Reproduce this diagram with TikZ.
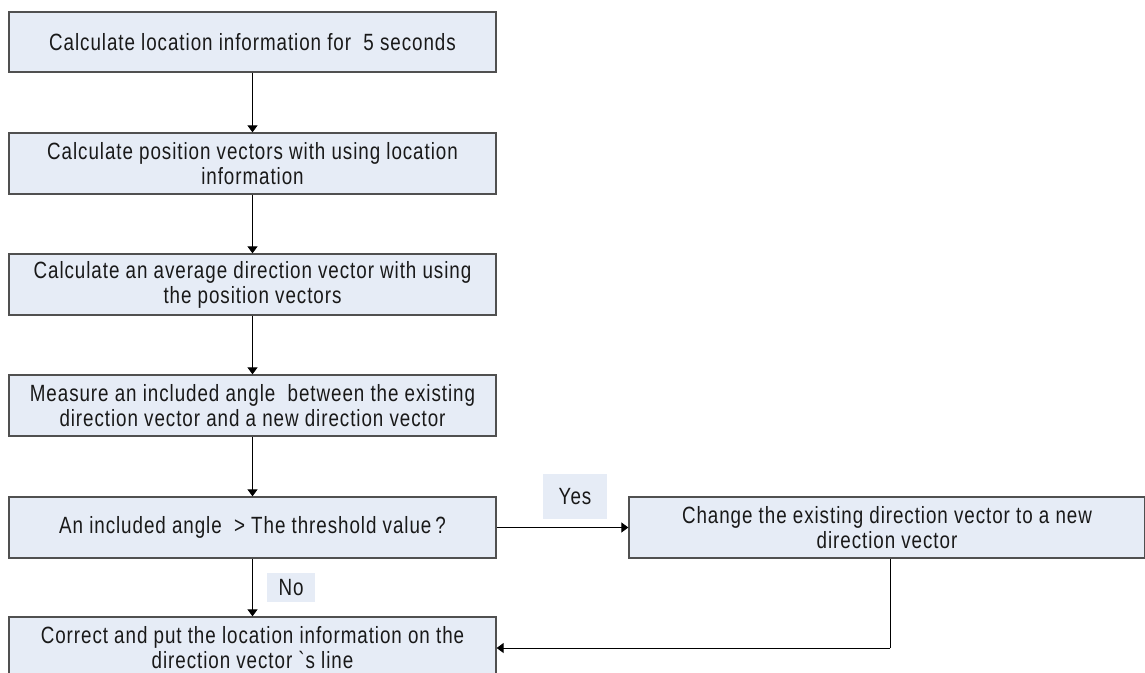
\documentclass[tikz,border=0pt]{standalone}
\usepackage{fontspec}
\setmainfont{Liberation Sans}[Ligatures=TeXOff, FakeStretch=0.8, LetterSpace=4]
\usetikzlibrary{arrows.meta}
\definecolor{boxfill}{RGB}{230,236,246}
\definecolor{boxline}{RGB}{80,80,80}
\definecolor{txt}{RGB}{25,25,25}
\tikzset{
  stepbox/.style={draw=boxline, fill=boxfill, line width=1.3pt, rectangle, minimum width=487pt, minimum height=61pt, inner sep=0pt, align=center, text=txt, font=\fontsize{23.5}{25}\selectfont},
  lab/.style={fill=boxfill, inner sep=0pt, text=txt, font=\fontsize{23.5}{25}\selectfont},
  conn/.style={draw=black, line width=1pt, -{Triangle[width=10pt,length=7pt]}},
  plain/.style={draw=black, line width=1pt}
}
\begin{document}
\begin{tikzpicture}[x=1pt,y=-1pt]
\useasboundingbox (0,0) rectangle (1145,672);
\node[stepbox, minimum height=60pt] (b1) at (252.5,42) {Calculate location information for\ \ 5 seconds};
\node[stepbox] (b2) at (252.5,163.5) {Calculate position vectors with using location\\information};
\node[stepbox] (b3) at (252.5,284.5) {Calculate an average direction vector with using\\the position vectors};
\node[stepbox] (b4) at (252.5,405.5) {Measure an included angle\ \ between the existing\\direction vector and a new direction vector};
\node[stepbox] (b5) at (252.5,527.5) {An included angle\ \ > The threshold value\,?};
\node[stepbox] (b6) at (252.5,647.5) {Correct and put the location information on the\\direction vector `s line};
\node[stepbox, minimum width=516pt] (rb) at (887,527.5) {Change the existing direction vector to a new\\direction vector};
\node[lab, minimum width=64pt, minimum height=45pt] (yes) at (575,496.5) {Yes};
\node[lab, minimum width=48pt, minimum height=29pt] (no) at (291,587.5) {No};
\coordinate (corner) at (890,648);
\draw[conn] (b1) -- (b2);
\draw[conn] (b2) -- (b3);
\draw[conn] (b3) -- (b4);
\draw[conn] (b4) -- (b5);
\draw[conn] (b5) -- (b6);
\draw[conn] (b5.east) -- (rb.west);
\draw[plain] (corner |- rb.south) -- (corner);
\draw[conn] (corner) -- (b6.east |- corner);
\end{tikzpicture}
\end{document}
